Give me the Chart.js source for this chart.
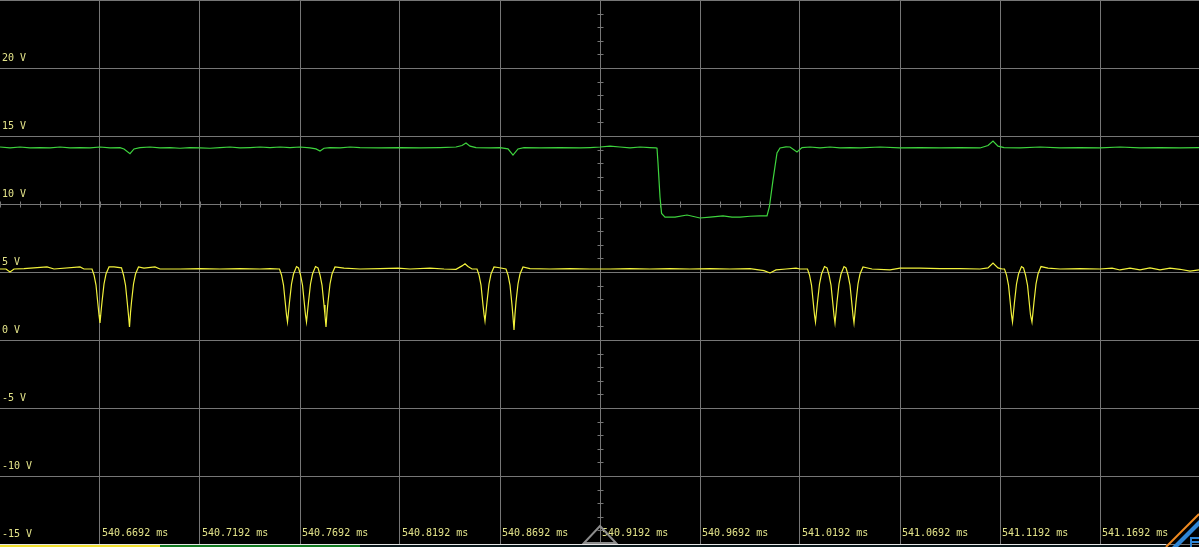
<!DOCTYPE html>
<html lang="en">
<head>
<meta charset="UTF-8">
<title>Scope capture</title>
<script src="https://cdn.jsdelivr.net/npm/chart.js"></script>
<style>
    body { margin: 0; background: #000; overflow: hidden; }
    #wrap { position: relative; width: 1199px; height: 547px; background: #000; }
    #scope { position: absolute; left: 0; top: 0; }
    .strip { position: absolute; }
    #corner { position: absolute; left: 1160px; top: 505px; }
</style>
</head>
<body>
<div id="wrap">
    <canvas id="scope" width="1199" height="547"></canvas>
    <div class="strip" style="left:0;top:544px;width:1166px;height:1px;background:#e6e6e6"></div>
    <div class="strip" style="left:0;top:545px;width:1166px;height:2px;background:#0c1a1e"></div>
    <div class="strip" style="left:0;top:545px;width:160px;height:2px;background:#f0e030"></div>
    <div class="strip" style="left:160px;top:545px;width:200px;height:2px;background:#127a22"></div>
    <svg id="corner" width="39" height="42" viewBox="0 0 39 42">
        <polygon points="12,42 39,15 39,21 18,42" fill="#2f86d6"/>
        <line x1="6" y1="42" x2="39" y2="9" stroke="#f08a20" stroke-width="2"/>
        <polyline points="31,42 31,33 39,33" fill="none" stroke="#2f86d6" stroke-width="2"/>
        <line x1="31" y1="37" x2="39" y2="37" stroke="#2f86d6" stroke-width="2"/>
    </svg>
</div>
<script>
// screen starts at 540.6192 ms, times below are in µs from the left edge
const timeTickValues = [0, 50, 100, 150, 200, 250, 300, 350, 400, 450, 500, 550];
const timeLabels = ['', '540.6692 ms', '540.7192 ms', '540.7692 ms', '540.8192 ms', '540.8692 ms',
    '540.9192 ms', '540.9692 ms', '541.0192 ms', '541.0692 ms', '541.1192 ms', '541.1692 ms'];
const voltTickValues = [-15, -10, -5, 0, 5, 10, 15, 20, 25];
const voltLabels = ['-15 V', '-10 V', '-5 V', '0 V', '5 V', '10 V', '15 V', '20 V', ''];

// channel 1 (yellow) [µs, V]
const ch1Points = [
    [0, 5.22], [3, 5.22], [5, 5.0], [7, 5.22], [12, 5.25], [23.5, 5.37], [27, 5.22], [40, 5.37], [42, 5.22],
    [46, 5.22], [47, 4.78], [48, 4.04], [49, 2.57], [49.5, 1.84], [50, 1.25], [50.5, 2.06], [51, 2.79], [52, 4.12], [53, 4.85], [54.5, 5.37],
    [57, 5.37],
    [60.75, 5.3], [61.75, 4.78], [62.75, 4.04], [63.75, 2.57], [64.25, 1.8], [64.75, 0.96], [65.25, 2.0], [65.75, 2.79], [66.75, 4.12], [67.75, 4.85], [69.25, 5.37],
    [72, 5.29], [77.5, 5.37], [80, 5.22], [90, 5.22], [100, 5.25], [110, 5.22], [120, 5.25], [130, 5.22], [135, 5.25],
    [139.75, 5.22], [140.75, 4.78], [141.75, 4.04], [142.75, 2.57], [143.25, 1.84], [143.75, 1.32], [144.25, 2.06], [144.75, 2.79], [145.75, 4.12], [146.75, 4.85], [148.25, 5.4],
    [149.25, 5.3], [150.25, 4.78], [151.25, 4.04], [152.25, 2.57], [152.75, 1.84], [153.25, 1.32], [153.75, 2.06], [154.25, 2.79], [155.25, 4.12], [156.25, 4.85], [157.75, 5.4],
    [159, 5.3], [160, 4.78], [161, 4.04], [162, 2.57], [162.5, 1.8], [163, 0.96], [163.5, 2.0], [164, 2.79], [165, 4.12], [166, 4.85], [167.5, 5.37],
    [172, 5.29], [180, 5.22], [190, 5.25], [199, 5.29], [205, 5.22], [215, 5.29], [222, 5.22], [228, 5.2], [231, 5.45], [232.5, 5.6], [234, 5.4], [236, 5.22],
    [238.5, 5.22], [239.5, 4.78], [240.5, 4.04], [241.5, 2.57], [242, 1.9], [242.5, 1.4], [243, 2.1], [243.5, 2.79], [244.5, 4.12], [245.5, 4.85], [247, 5.37],
    [249, 5.33], [253, 5.22], [254, 4.78], [255, 4.04], [256, 2.57], [256.5, 1.7], [257, 0.74], [257.5, 1.9], [258, 2.79], [259, 4.12], [260, 4.85], [261.5, 5.37],
    [265, 5.25], [275, 5.22], [285, 5.25], [295, 5.22], [305, 5.22], [315, 5.25], [325, 5.22], [335, 5.25], [345, 5.22], [355, 5.25], [365, 5.22], [375, 5.25],
    [382, 5.1], [385, 4.93], [388, 5.15], [393, 5.22], [398, 5.29], [400, 5.22],
    [403.75, 5.22], [404.75, 4.78], [405.75, 4.04], [406.75, 2.57], [407.25, 1.84], [407.75, 1.32], [408.25, 2.06], [408.75, 2.79], [409.75, 4.12], [410.75, 4.85], [412.25, 5.4],
    [413.5, 5.3], [414.5, 4.78], [415.5, 4.04], [416.5, 2.57], [417, 1.8], [417.5, 1.25], [418, 2.0], [418.5, 2.79], [419.5, 4.12], [420.5, 4.85], [422, 5.4],
    [423, 5.3], [424, 4.78], [425, 4.04], [426, 2.57], [426.5, 1.8], [427, 1.25], [427.5, 2.0], [428, 2.79], [429, 4.12], [430, 4.85], [431.5, 5.37],
    [436, 5.22], [445, 5.15], [450, 5.29], [460, 5.29], [470, 5.25], [480, 5.25], [490, 5.22], [494, 5.3], [496.5, 5.66], [499, 5.3], [501, 5.22],
    [502.25, 5.22], [503.25, 4.78], [504.25, 4.04], [505.25, 2.57], [505.75, 1.84], [506.25, 1.32], [506.75, 2.06], [507.25, 2.79], [508.25, 4.12], [509.25, 4.85], [510.75, 5.4],
    [511.75, 5.3], [512.75, 4.78], [513.75, 4.04], [514.75, 2.57], [515.25, 1.84], [516, 1.32], [516.5, 2.06], [517, 2.79], [518, 4.12], [519, 4.85], [520.5, 5.4],
    [524, 5.29], [530, 5.22], [540, 5.25], [550, 5.22], [556, 5.29], [560, 5.15], [565, 5.29], [570, 5.15], [575, 5.3], [580, 5.15], [585, 5.29], [590, 5.2], [595, 5.07], [599.5, 5.15]
];

// channel 2 (green) [µs, V]
const ch2Points = [
    [0, 14.19], [5, 14.12], [10, 14.19], [15, 14.12], [20, 14.15], [25, 14.12], [30, 14.19], [35, 14.12], [40, 14.15], [45, 14.12],
    [50, 14.19], [55, 14.12], [60, 14.15], [62, 14.05], [65, 13.7], [67, 14.05], [70, 14.15], [75, 14.19], [80, 14.12], [85, 14.15],
    [90, 14.1], [95, 14.15], [100, 14.12], [105, 14.1], [110, 14.15], [115, 14.19], [120, 14.12], [125, 14.15], [130, 14.19], [135, 14.15],
    [140, 14.19], [145, 14.15], [150, 14.19], [155, 14.12], [158, 14.05], [160, 13.9], [162, 14.1], [165, 14.15], [170, 14.12], [175, 14.19],
    [180, 14.15], [190, 14.12], [200, 14.15], [210, 14.12], [220, 14.15], [228, 14.19], [231, 14.3], [233, 14.49], [235, 14.25], [238, 14.15],
    [245, 14.12], [250, 14.15], [254, 14.05], [256.5, 13.6], [259, 14.05], [262, 14.15], [270, 14.12], [280, 14.15], [290, 14.12], [295, 14.15],
    [300, 14.19], [305, 14.26], [310, 14.19], [315, 14.12], [320, 14.19], [325, 14.15], [328, 14.12],
    [328.5, 14.1], [329, 13.01], [330, 10.51], [330.8, 9.3], [332.5, 9.04], [337.5, 9.04], [343.5, 9.19], [350, 8.97], [355, 9.04],
    [361.5, 9.12], [366, 9.04], [370, 9.04], [375, 9.1], [380, 9.12], [383.5, 9.12],
    [384.7, 9.8], [386.5, 11.76], [388.5, 13.75], [390, 14.12], [393, 14.2], [395, 14.19], [398.5, 13.82], [401, 14.15], [405, 14.19],
    [410, 14.12], [415, 14.19], [420, 14.12], [425, 14.15], [430, 14.12], [440, 14.19], [450, 14.12], [460, 14.15], [470, 14.12], [480, 14.15],
    [490, 14.12], [494, 14.3], [496.5, 14.63], [499, 14.25], [502, 14.15], [510, 14.12], [520, 14.19], [530, 14.12], [540, 14.15], [550, 14.12],
    [560, 14.19], [570, 14.12], [580, 14.15], [590, 14.12], [599.5, 14.15]
];

const gridColor = '#767676';
const labelColor = '#e4e48a';

// drop the label overhang padding so the plot fills the whole canvas
function flatten(s, horizontal) {
    if (horizontal) s.height = 0; else s.width = 0;
    s.paddingTop = 0; s.paddingBottom = 0; s.paddingLeft = 0; s.paddingRight = 0;
}

// minor tick marks on the centre cross + trigger marker
const scopeMarks = {
    id: 'scopeMarks',
    beforeDatasetsDraw(chart) {
        const { ctx, scales: { x, y } } = chart;
        const cx = Math.round(x.getPixelForValue(300)) + 0.5;
        const cy = Math.round(y.getPixelForValue(10)) + 0.5;
        ctx.save();
        ctx.strokeStyle = gridColor;
        ctx.lineWidth = 1;
        ctx.beginPath();
        for (let v = -15; v <= 25; v += 1) {
            const py = Math.round(y.getPixelForValue(v)) + 0.5;
            ctx.moveTo(cx - 3, py); ctx.lineTo(cx + 3, py);
        }
        for (let t = 0; t <= 600; t += 10) {
            const px = Math.round(x.getPixelForValue(t)) + 0.5;
            ctx.moveTo(px, cy - 3); ctx.lineTo(px, cy + 3);
        }
        ctx.stroke();
        ctx.restore();
    },
    afterDraw(chart) {
        const { ctx, scales: { x }, chartArea: a } = chart;
        const tx = x.getPixelForValue(300);
        ctx.save();
        ctx.strokeStyle = '#8c8c8c';
        ctx.lineWidth = 2;
        ctx.beginPath();
        ctx.moveTo(tx, a.bottom - 18);
        ctx.lineTo(tx + 16, a.bottom - 1);
        ctx.lineTo(tx - 16, a.bottom - 1);
        ctx.closePath();
        ctx.stroke();
        ctx.restore();
    }
};

new Chart(document.getElementById('scope'), {
    type: 'line',
    data: {
        datasets: [
            { label: 'CH1', data: ch1Points, borderColor: '#f2f23c', borderWidth: 1.2, pointRadius: 0, tension: 0 },
            { label: 'CH2', data: ch2Points, borderColor: '#3ed43e', borderWidth: 1.2, pointRadius: 0, tension: 0 }
        ]
    },
    options: {
        responsive: false,
        animation: false,
        layout: { padding: { left: 0, right: 0, top: 0, bottom: 3 } },
        plugins: { legend: { display: false }, tooltip: { enabled: false } },
        scales: {
            x: {
                type: 'linear',
                min: 0,
                max: 599.5,
                afterBuildTicks: s => { s.ticks = timeTickValues.map(v => ({ value: v })); },
                afterFit: s => flatten(s, true),
                grid: {
                    color: c => (c.tick && c.tick.value === 0) ? 'rgba(0,0,0,0)' : gridColor,
                    lineWidth: 1,
                    drawTicks: false
                },
                border: { display: false },
                ticks: {
                    mirror: true,
                    align: 'start',
                    padding: 5,
                    labelOffset: 2,
                    autoSkip: false,
                    maxRotation: 0,
                    color: labelColor,
                    font: { family: 'DejaVu Sans Mono', size: 10 },
                    callback: (v, i) => timeLabels[i]
                }
            },
            y: {
                type: 'linear',
                min: -15,
                max: 25,
                afterBuildTicks: s => { s.ticks = voltTickValues.map(v => ({ value: v })); },
                afterFit: s => flatten(s, false),
                grid: { color: gridColor, lineWidth: 1, drawTicks: false },
                border: { display: false },
                ticks: {
                    mirror: true,
                    padding: 2,
                    labelOffset: -10,
                    color: labelColor,
                    font: { family: 'DejaVu Sans Mono', size: 10 },
                    callback: (v, i) => voltLabels[i]
                }
            }
        }
    },
    plugins: [scopeMarks]
});
</script>
</body>
</html>
